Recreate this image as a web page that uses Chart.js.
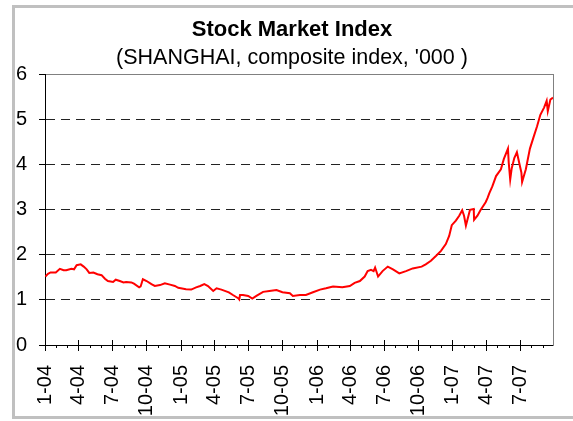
<!DOCTYPE html>
<html>
<head>
<meta charset="utf-8">
<script src="https://cdn.jsdelivr.net/npm/chart.js@4.4.0/dist/chart.umd.min.js"></script>
<style>
  html, body { margin: 0; padding: 0; background: #fff; }
  #wrap { position: relative; width: 573px; height: 421px; overflow: hidden; }
  #wrap canvas { position: absolute; left: 0; top: 0; }
  #frame { position: absolute; left: 12px; top: 5px; width: 600px; height: 408px;
           border: 3px solid #c0c0c0; pointer-events: none; }
</style>
</head>
<body>
<div id="wrap">
  <canvas id="indexChart" width="573" height="421"></canvas>
  <div id="frame"></div>
</div>
<script>
// Shanghai composite index, thousands of points
const tradeDates = [
    // 2004
    '2004-01-02', '2004-01-09', '2004-01-16', '2004-01-30',
    '2004-02-10', '2004-02-20', '2004-02-27',
    '2004-03-12', '2004-03-19', '2004-03-26',
    '2004-04-06', '2004-04-14', '2004-04-22', '2004-04-29',
    '2004-05-10', '2004-05-21',
    '2004-06-01', '2004-06-10', '2004-06-18',
    '2004-07-02', '2004-07-09', '2004-07-20', '2004-07-30',
    '2004-08-06', '2004-08-20', '2004-08-27',
    '2004-09-10', '2004-09-14', '2004-09-20', '2004-09-30',
    '2004-10-13', '2004-10-22',
    '2004-11-05', '2004-11-18',
    '2004-12-02', '2004-12-15', '2004-12-24', '2004-12-31',
    // 2005
    '2005-01-14', '2005-01-28',
    '2005-02-10', '2005-02-21',
    '2005-03-04', '2005-03-14', '2005-03-28',
    '2005-04-06', '2005-04-19',
    '2005-05-09', '2005-05-20',
    '2005-06-03', '2005-06-06', '2005-06-08', '2005-06-16', '2005-06-30',
    '2005-07-11', '2005-07-22',
    '2005-08-09', '2005-08-26',
    '2005-09-14', '2005-09-30',
    '2005-10-20', '2005-10-28',
    '2005-11-16',
    '2005-12-02', '2005-12-21',
    // 2006
    '2006-01-09', '2006-01-25',
    '2006-02-13',
    '2006-03-10', '2006-03-30',
    '2006-04-12', '2006-04-26',
    '2006-05-09', '2006-05-17', '2006-05-26',
    '2006-06-02', '2006-06-06', '2006-06-14', '2006-06-26',
    '2006-07-10', '2006-07-24',
    '2006-08-10', '2006-08-28',
    '2006-09-15',
    '2006-10-09', '2006-10-20',
    '2006-11-03', '2006-11-17', '2006-11-30',
    '2006-12-13', '2006-12-22', '2006-12-29',
    // 2007
    '2007-01-09', '2007-01-18', '2007-01-26', '2007-01-31',
    '2007-02-05', '2007-02-16', '2007-02-26', '2007-02-27',
    '2007-03-08', '2007-03-16', '2007-03-30',
    '2007-04-04', '2007-04-09', '2007-04-17', '2007-04-27',
    '2007-05-10', '2007-05-18', '2007-05-29', '2007-05-31',
    '2007-06-04', '2007-06-08', '2007-06-15', '2007-06-22', '2007-06-28',
    '2007-07-04', '2007-07-06', '2007-07-16', '2007-07-27',
    '2007-08-06', '2007-08-15', '2007-08-24',
    '2007-09-03', '2007-09-10', '2007-09-13', '2007-09-20', '2007-09-27'
];

const closeValues = [
    // 2004
    1.52, 1.58, 1.61, 1.61,
    1.69, 1.66, 1.66,
    1.69, 1.68, 1.77,
    1.79, 1.74, 1.68, 1.60,
    1.61, 1.57,
    1.55, 1.47, 1.42,
    1.40, 1.45, 1.42, 1.39,
    1.40, 1.39, 1.36,
    1.28, 1.30, 1.46, 1.42,
    1.35, 1.31,
    1.33, 1.37,
    1.34, 1.31, 1.27, 1.26,
    // 2005
    1.24, 1.23,
    1.28, 1.31,
    1.35, 1.31, 1.20,
    1.26, 1.23,
    1.17, 1.11,
    1.04, 1.01, 1.11, 1.11, 1.09,
    1.03, 1.09,
    1.18, 1.20,
    1.22, 1.17,
    1.15, 1.09,
    1.11,
    1.11, 1.17,
    // 2006
    1.23, 1.26,
    1.30,
    1.28, 1.31,
    1.38, 1.42,
    1.52, 1.64, 1.67,
    1.64, 1.72, 1.52, 1.64,
    1.74, 1.68,
    1.59, 1.64,
    1.70,
    1.74, 1.79,
    1.87, 1.98, 2.09,
    2.24, 2.42, 2.66,
    // 2007
    2.76, 2.87, 2.99, 2.87,
    2.65, 3.00, 3.02, 2.78,
    2.87, 2.99, 3.17,
    3.26, 3.37, 3.52, 3.75,
    3.90, 4.13, 4.36, 4.05,
    3.67, 3.92, 4.15, 4.28, 4.05,
    3.83, 3.62, 3.90, 4.36,
    4.62, 4.85, 5.11,
    5.27, 5.42, 5.19, 5.45, 5.49
];

const quarterLabels = ['1-04', '4-04', '7-04', '10-04', '1-05', '4-05', '7-05', '10-05',
    '1-06', '4-06', '7-06', '10-06', '1-07', '4-07', '7-07'];

const FONT = "'Liberation Sans', Arial, sans-serif";
const DAY = 86400000;
const origin = Date.UTC(2004, 0, 1);

// days since 1 Jan 2004
function dayIndex(iso) {
    const [y, m, d] = iso.split('-').map(Number);
    return (Date.UTC(y, m - 1, d) - origin) / DAY;
}

// '4-05' -> first day of April 2005
function labelDay(label) {
    const [m, yy] = label.split('-').map(Number);
    return (Date.UTC(2000 + yy, m - 1, 1) - origin) / DAY;
}

const lastDay = dayIndex(tradeDates[tradeDates.length - 1]);
const quarterTicks = quarterLabels.map(labelDay);

// one minor tick at the start of every month on the axis
const monthTicks = [];
for (let y = 2004, m = 0; ; m++) {
    if (m === 12) { m = 0; y++; }
    const d = (Date.UTC(y, m, 1) - origin) / DAY;
    if (d > lastDay) break;
    monthTicks.push(d);
}

const points = tradeDates.map((d, i) => ({ x: dayIndex(d), y: closeValues[i] }));

new Chart(document.getElementById('indexChart').getContext('2d'), {
    type: 'line',
    data: {
        datasets: [{
            data: points,
            borderColor: '#ff0000',
            borderWidth: 2,
            pointRadius: 0,
            tension: 0,
            fill: false,
            xAxisID: 'x',
            yAxisID: 'y'
        }]
    },
    options: {
        responsive: false,
        animation: false,
        layout: { padding: { left: 16, right: 5, top: 0, bottom: 0 } },
        plugins: {
            legend: { display: false },
            tooltip: { enabled: false },
            title: {
                display: true,
                text: 'Stock Market Index',
                color: '#000',
                font: { family: FONT, size: 22, weight: 'bold' },
                padding: { top: 17, bottom: 0 }
            },
            subtitle: {
                display: true,
                text: "(SHANGHAI, composite index, '000 )",
                color: '#000',
                font: { family: FONT, size: 21.5, weight: 'normal' },
                padding: { top: 1.5, bottom: 4 }
            }
        },
        scales: {
            x: {
                type: 'linear',
                position: 'bottom',
                min: 0,
                max: lastDay,
                afterBuildTicks: s => { s.ticks = quarterTicks.map(v => ({ value: v })); },
                afterFit: s => { s.height = 76; },
                ticks: {
                    autoSkip: false,
                    minRotation: 90,
                    maxRotation: 90,
                    padding: 14,
                    color: '#000',
                    font: { family: FONT, size: 20 },
                    callback: (v, i) => quarterLabels[i]
                },
                grid: { drawOnChartArea: false, tickLength: 6, tickColor: '#000' },
                border: { color: '#000' }
            },
            xMinor: {
                type: 'linear',
                axis: 'x',
                position: { y: 0 },
                min: 0,
                max: lastDay,
                afterBuildTicks: s => { s.ticks = monthTicks.map(v => ({ value: v })); },
                ticks: { display: false },
                grid: { drawOnChartArea: false, tickLength: 3, tickColor: '#000' },
                border: { display: false }
            },
            xCross: {
                type: 'linear',
                axis: 'x',
                position: { y: 0 },
                min: 0,
                max: lastDay,
                afterBuildTicks: s => { s.ticks = quarterTicks.map(v => ({ value: v })); },
                ticks: { display: false },
                grid: { drawOnChartArea: false, tickLength: -5, tickColor: '#000' },
                border: { display: false }
            },
            xTop: {
                type: 'linear',
                axis: 'x',
                position: 'top',
                afterFit: s => { s.height = 0; },
                ticks: { display: false },
                grid: { display: false },
                border: { color: '#808080' }
            },
            y: {
                min: 0,
                max: 6,
                afterFit: s => { s.width = 29; },
                ticks: {
                    stepSize: 1,
                    padding: 12,
                    color: '#000',
                    font: { family: FONT, size: 20 }
                },
                grid: {
                    color: c => (c.tick && (c.tick.value === 0 || c.tick.value === 6)) ? 'rgba(0,0,0,0)' : '#222',
                    tickColor: '#000',
                    tickLength: 6,
                    lineWidth: 1
                },
                border: { color: '#000', dash: [9, 6] }
            },
            yRight: {
                type: 'linear',
                axis: 'y',
                position: 'right',
                afterFit: s => { s.width = 15; },
                ticks: { display: false },
                grid: { display: false },
                border: { color: '#808080' }
            }
        }
    }
});
</script>
</body>
</html>
